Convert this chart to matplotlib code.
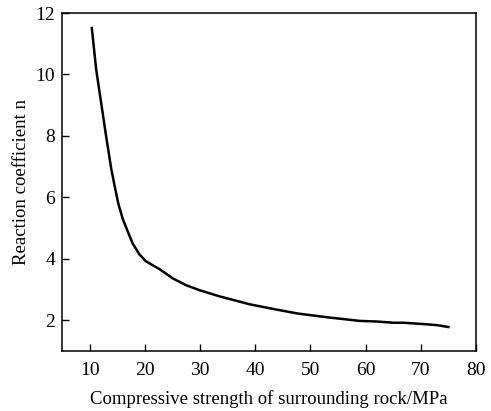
import matplotlib.pyplot as plt
import numpy as np

# curve
strength = [10.4, 11.2, 12.1, 13.0, 13.9, 14.5, 15.2, 16.0, 17.0, 17.8, 19.0,
            20.2, 22.7, 25.1, 27.5, 29.9, 33.5, 39.0, 43.5, 47.7, 52.9,
            58.9, 62.0, 65.0, 66.8, 71.0, 73.0, 75.0]
coef = [11.51, 10.15, 9.07, 7.98, 6.95, 6.4, 5.8, 5.3, 4.85, 4.5, 4.15,
        3.92, 3.66, 3.36, 3.14, 2.98, 2.78, 2.52, 2.36, 2.22, 2.10,
        1.98, 1.96, 1.92, 1.92, 1.87, 1.84, 1.78]

xticks = [10, 20, 30, 40, 50, 60, 70, 80]
yticks = [2, 4, 6, 8, 10, 12]

plt.rcParams['font.family'] = ['Liberation Serif', 'DejaVu Serif']

fig = plt.figure(figsize=(4.91, 4.11), dpi=100)
ax = fig.add_axes([62/491, 1 - 351/411, (476 - 62)/491, (351 - 13)/411])

ax.plot(strength, coef, color='black', linewidth=1.8)

ax.set_xlim(5, 80)
ax.set_ylim(1, 12)
ax.set_xticks(xticks)
ax.set_yticks(yticks)
ax.tick_params(direction='in', length=5, width=1, labelsize=14)
ax.tick_params(axis='x', pad=8)
ax.tick_params(axis='y', pad=5)
for s in ax.spines.values():
    s.set_linewidth(1.1)

ax.set_xlabel('Compressive strength of surrounding rock/MPa', fontsize=13.5, labelpad=8)
ax.set_ylabel('Reaction coefficient n', fontsize=13.5, labelpad=4)

fig.savefig('out.png', dpi=100)
